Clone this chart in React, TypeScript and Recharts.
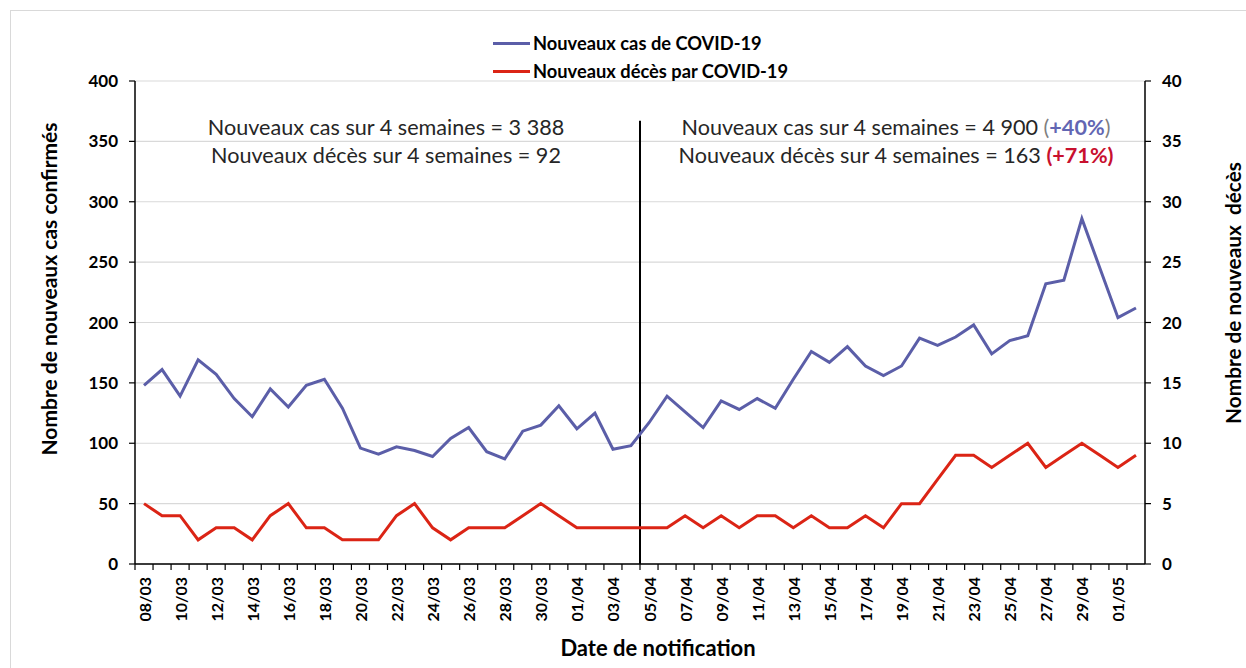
import React from 'react';
import {
  ComposedChart,
  Line,
  XAxis,
  YAxis,
  CartesianGrid,
  ReferenceLine,
  Legend,
} from 'recharts';

const dates = [
  '08/03', '09/03', '10/03', '11/03', '12/03', '13/03', '14/03', '15/03', '16/03', '17/03',
  '18/03', '19/03', '20/03', '21/03', '22/03', '23/03', '24/03', '25/03', '26/03', '27/03',
  '28/03', '29/03', '30/03', '31/03', '01/04', '02/04', '03/04', '04/04', '05/04', '06/04',
  '07/04', '08/04', '09/04', '10/04', '11/04', '12/04', '13/04', '14/04', '15/04', '16/04',
  '17/04', '18/04', '19/04', '20/04', '21/04', '22/04', '23/04', '24/04', '25/04', '26/04',
  '27/04', '28/04', '29/04', '30/04', '01/05', '02/05',
];

const cases = [
  148, 161, 139, 169, 157, 137, 122, 145, 130, 148, 153, 129, 96, 91, 97, 94, 89, 104, 113, 93,
  87, 110, 115, 131, 112, 125, 95, 98,
  117, 139, 126, 113, 135, 128, 137, 129, 153, 176, 167, 180, 164, 156, 164, 187, 181, 188, 198, 174,
  185, 189, 232, 235, 286, 245, 204, 212,
];

const deaths = [
  5, 4, 4, 2, 3, 3, 2, 4, 5, 3, 3, 2, 2, 2, 4, 5, 3, 2, 3, 3, 3, 4, 5, 4, 3, 3, 3, 3,
  3, 3, 4, 3, 4, 3, 4, 4, 3, 4, 3, 3, 4, 3, 5, 5, 7, 9, 9, 8, 9, 10, 8, 9, 10, 9, 8, 9,
];

const leftTicks = [0, 50, 100, 150, 200, 250, 300, 350, 400];
const rightTicks = [0, 5, 10, 15, 20, 25, 30, 35, 40];

// first day of the second 4-week period
const splitDate = '05/04';

const BLUE = '#5b5ea8';
const RED = '#db2415';
const FONT = 'Lato, "Open Sans", sans-serif';

const data = dates.map((date, i) => ({ date, cases: cases[i], deaths: deaths[i] }));

const DateTick = (props: any) => {
  const { x, y, payload } = props;
  const half = payload && payload.offset ? payload.offset : 9;
  return (
    <g>
      <line x1={x - half} x2={x - half} y1={y} y2={y + 6} stroke="#000" strokeWidth={1.2} />
      <line x1={x + half} x2={x + half} y1={y} y2={y + 6} stroke="#000" strokeWidth={1.2} />
      <text
        x={x}
        y={y + 13}
        transform={`rotate(-90, ${x}, ${y + 13})`}
        textAnchor="end"
        dominantBaseline="central"
        fontFamily={FONT}
        fontWeight={700}
        fontSize={16}
        fill="#000"
      >
        {payload.value}
      </text>
    </g>
  );
};

const LegendBox = () => (
  <div style={{ position: 'absolute', left: 493, top: 0, fontFamily: FONT }}>
    {[
      { name: 'Nouveaux cas de COVID-19', color: BLUE },
      { name: 'Nouveaux décès par COVID-19', color: RED },
    ].map((item) => (
      <div key={item.name} style={{ display: 'flex', alignItems: 'center', height: 28 }}>
        <div style={{ width: 37, height: 3, background: item.color, marginRight: 3 }} />
        <span style={{ fontWeight: 700, fontSize: 18.3, color: '#000' }}>{item.name}</span>
      </div>
    ))}
  </div>
);

const noteStyle: React.CSSProperties = {
  position: 'absolute',
  fontFamily: FONT,
  fontSize: 21.6,
  color: '#262626',
  lineHeight: '28px',
  textAlign: 'center',
  whiteSpace: 'nowrap',
  transform: 'translateX(-50%)',
};

const App = () => {
  return (
    <div style={{ position: 'absolute', left: 0, top: 0, width: 1246, height: 668, background: '#fff', overflow: 'hidden' }}>
      <div style={{ position: 'absolute', left: 10, top: 10, width: 1260, height: 700, border: '1px solid #d9d9d9' }} />
      <ComposedChart
        width={1246}
        height={668}
        data={data}
        margin={{ top: 81, right: 41, bottom: 44, left: 75 }}
      >
        <CartesianGrid vertical={false} stroke="#d9d9d9" strokeWidth={1.2} yAxisId="left" />
        <XAxis
          dataKey="date"
          scale="band"
          interval={1}
          height={60}
          tickSize={0}
          tickMargin={0}
          tickLine={false}
          axisLine={{ stroke: '#000', strokeWidth: 1.5 }}
          tick={<DateTick />}
        />
        <YAxis
          yAxisId="left"
          domain={[0, 400]}
          ticks={leftTicks}
          width={60}
          tickSize={6}
          tickMargin={11}
          axisLine={{ stroke: '#000', strokeWidth: 1.5 }}
          tickLine={{ stroke: '#000', strokeWidth: 1.2 }}
          tick={{ fontFamily: FONT, fontWeight: 700, fontSize: 17, fill: '#000' }}
        />
        <YAxis
          yAxisId="right"
          orientation="right"
          domain={[0, 40]}
          ticks={rightTicks}
          width={60}
          tickSize={6}
          tickMargin={11}
          axisLine={{ stroke: '#000', strokeWidth: 1.5 }}
          tickLine={{ stroke: '#000', strokeWidth: 1.2 }}
          tick={{ fontFamily: FONT, fontWeight: 700, fontSize: 17, fill: '#000' }}
        />
        <ReferenceLine
          yAxisId="left"
          position="start"
          segment={[{ x: splitDate, y: 0 }, { x: splitDate, y: 367 }]}
          stroke="#000"
          strokeWidth={2}
        />
        <Legend verticalAlign="top" wrapperStyle={{ top: 29, left: 0, width: 1246 }} content={<LegendBox />} />
        <Line
          yAxisId="left"
          type="linear"
          dataKey="cases"
          name="Nouveaux cas de COVID-19"
          stroke={BLUE}
          strokeWidth={3}
          dot={false}
          isAnimationActive={false}
        />
        <Line
          yAxisId="right"
          type="linear"
          dataKey="deaths"
          name="Nouveaux décès par COVID-19"
          stroke={RED}
          strokeWidth={3}
          dot={false}
          isAnimationActive={false}
        />
      </ComposedChart>

      <div style={{ ...noteStyle, left: 386, top: 113 }}>
        Nouveaux cas sur 4 semaines = 3 388
        <br />
        Nouveaux décès sur 4 semaines = 92
      </div>
      <div style={{ ...noteStyle, left: 896, top: 113 }}>
        Nouveaux cas sur 4 semaines = 4 900 <span style={{ color: '#7f7f7f' }}>(</span>
        <span style={{ color: '#6266b3', fontWeight: 700 }}>+40%</span>
        <span style={{ color: '#7f7f7f' }}>)</span>
        <br />
        Nouveaux décès sur 4 semaines = 163{' '}
        <span style={{ color: '#c8102e', fontWeight: 700 }}>(+71%)</span>
      </div>

      <div
        style={{
          position: 'absolute',
          left: 48,
          top: 289,
          transform: 'translate(-50%, -50%) rotate(-90deg)',
          fontFamily: FONT,
          fontWeight: 700,
          fontSize: 21,
          whiteSpace: 'nowrap',
          color: '#000',
        }}
      >
        Nombre de nouveaux cas confirmés
      </div>
      <div
        style={{
          position: 'absolute',
          left: 1232,
          top: 293,
          transform: 'translate(-50%, -50%) rotate(-90deg)',
          fontFamily: FONT,
          fontWeight: 700,
          fontSize: 20.8,
          whiteSpace: 'pre',
          color: '#000',
        }}
      >
        Nombre de nouveaux  décès
      </div>
      <div
        style={{
          position: 'absolute',
          left: 658,
          top: 647,
          transform: 'translate(-50%, -50%)',
          fontFamily: FONT,
          fontWeight: 700,
          fontSize: 22,
          whiteSpace: 'nowrap',
          color: '#000',
        }}
      >
        Date de notification
      </div>
    </div>
  );
};

export default App;
